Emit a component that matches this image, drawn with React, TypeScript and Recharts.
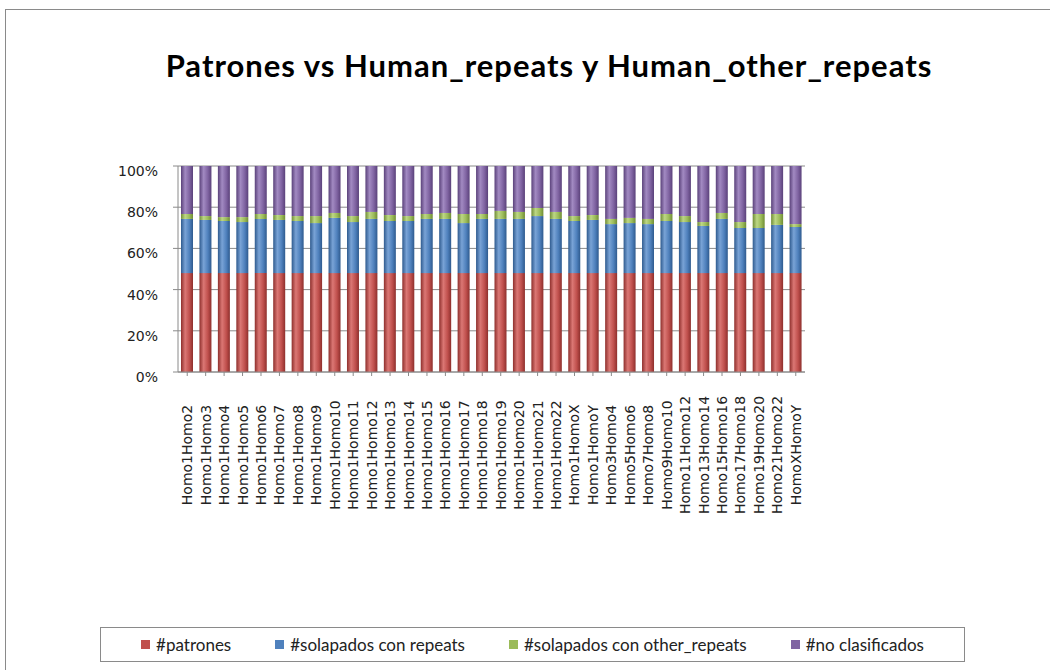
import { BarChart, Bar, XAxis, YAxis, CartesianGrid, Legend } from 'recharts';

// Categorías (pares de cromosomas comparados)
const categorias = [
  'Homo1Homo2', 'Homo1Homo3', 'Homo1Homo4', 'Homo1Homo5', 'Homo1Homo6', 'Homo1Homo7',
  'Homo1Homo8', 'Homo1Homo9', 'Homo1Homo10', 'Homo1Homo11', 'Homo1Homo12', 'Homo1Homo13',
  'Homo1Homo14', 'Homo1Homo15', 'Homo1Homo16', 'Homo1Homo17', 'Homo1Homo18', 'Homo1Homo19',
  'Homo1Homo20', 'Homo1Homo21', 'Homo1Homo22', 'Homo1HomoX', 'Homo1HomoY', 'Homo3Homo4',
  'Homo5Homo6', 'Homo7Homo8', 'Homo9Homo10', 'Homo11Homo12', 'Homo13Homo14', 'Homo15Homo16',
  'Homo17Homo18', 'Homo19Homo20', 'Homo21Homo22', 'HomoXHomoY',
];

// porcentajes
const patrones = [
  48, 48, 48, 48, 48, 48, 48, 48, 48, 48, 48, 48, 48, 48, 48, 48, 48,
  48, 48, 48, 48, 48, 48, 48, 48, 48, 48, 48, 48, 48, 48, 48, 48, 48,
];
const solapadosRepeats = [
  26.3, 25.8, 25.3, 24.8, 26.3, 25.8, 25.3, 24.3, 26.8, 24.8, 26.3, 25.3, 25.3, 26.3, 26.3, 24.3, 26.3,
  26.3, 26.3, 27.7, 26.3, 25.3, 25.8, 23.8, 24.3, 23.8, 25.3, 24.8, 22.9, 26.3, 21.9, 21.9, 23.4, 22.4,
];
const solapadosOther = [
  2.4, 1.9, 1.9, 2.4, 2.4, 2.4, 2.4, 3.4, 2.4, 2.9, 3.4, 2.9, 2.4, 2.4, 2.9, 4.4, 2.4,
  3.9, 3.4, 3.9, 3.4, 2.4, 2.4, 2.5, 2.5, 2.5, 3.4, 2.9, 1.9, 2.9, 2.9, 6.8, 5.3, 1.4,
];
const noClasificados = [
  23.3, 24.3, 24.8, 24.8, 23.3, 23.8, 24.3, 24.3, 22.8, 24.3, 22.3, 23.8, 24.3, 23.3, 22.8, 23.3, 23.3,
  21.8, 22.3, 20.4, 22.3, 24.3, 23.8, 25.7, 25.2, 25.7, 23.3, 24.3, 27.2, 22.8, 27.2, 23.3, 23.3, 28.2,
];
const yTicks = [0, 0.2, 0.4, 0.6, 0.8, 1];

const series = [
  { key: 'patrones', name: '#patrones', color: '#C0504D', dark: '#8E2F2C', light: '#DB7774' },
  { key: 'repeats', name: '#solapados con repeats', color: '#4F81BD', dark: '#2E5A8E', light: '#79A3D6' },
  { key: 'other', name: '#solapados con other_repeats', color: '#9BBB59', dark: '#6F8C35', light: '#BDD785' },
  { key: 'noclas', name: '#no clasificados', color: '#8064A2', dark: '#5A417A', light: '#A28AC2' },
];

const data = categorias.map((c, i) => ({
  name: c,
  patrones: patrones[i],
  repeats: solapadosRepeats[i],
  other: solapadosOther[i],
  noclas: noClasificados[i],
}));

const XTick = ({ x, payload }: any) => (
  <text
    transform={`translate(${x + 5},455) rotate(-90)`}
    textAnchor="middle"
    fontSize={14}
    fontFamily="DejaVu Sans"
    fill="#222"
  >
    {payload.value}
  </text>
);

const YTick = ({ x, y, payload }: any) => (
  <text x={x} y={y + 10} textAnchor="end" fontSize={14} fontFamily="DejaVu Sans" fill="#222">
    {Math.round(payload.value * 100) + '%'}
  </text>
);

const LegendBox = () => (
  <div
    style={{
      width: 863,
      height: 33,
      border: '1px solid #8a8a8a',
      display: 'flex',
      alignItems: 'center',
      justifyContent: 'center',
      gap: 44,
      fontFamily: 'Lato',
      fontSize: 17,
      color: '#222',
      background: '#fff',
    }}
  >
    {series.map(s => (
      <div key={s.key} style={{ display: 'flex', alignItems: 'center' }}>
        <span style={{ width: 9, height: 9, background: s.color, marginRight: 6 }} />
        <span>{s.name}</span>
      </div>
    ))}
  </div>
);

export default function App() {
  return (
    <div style={{ position: 'absolute', left: 0, top: 0, width: 1050, height: 670, background: '#fff', overflow: 'hidden' }}>
      <div
        style={{
          position: 'absolute',
          left: 5,
          top: 9,
          width: 1100,
          height: 700,
          borderTop: '1px solid #8a8a8a',
          borderLeft: '1px solid #8a8a8a',
        }}
      />
      <div
        style={{
          position: 'absolute',
          left: 0,
          top: 46,
          width: 1098,
          textAlign: 'center',
          fontFamily: 'Lato',
          fontWeight: 700,
          fontSize: 31,
          letterSpacing: 1,
          color: '#000',
        }}
      >
        Patrones vs Human_repeats y Human_other_repeats
      </div>
      <div style={{ position: 'absolute', left: 0, top: 0 }}>
        <BarChart
          width={1050}
          height={670}
          data={data}
          stackOffset="expand"
          barCategoryGap="30%"
          margin={{ top: 166, right: 245, bottom: 113, left: 0 }}
        >
          <defs>
            {series.map(s => (
              <linearGradient key={s.key} id={`g-${s.key}`} x1="0" y1="0" x2="1" y2="0">
                <stop offset="0%" stopColor={s.dark} />
                <stop offset="35%" stopColor={s.light} />
                <stop offset="70%" stopColor={s.color} />
                <stop offset="100%" stopColor={s.dark} />
              </linearGradient>
            ))}
          </defs>
          <CartesianGrid vertical={false} stroke="#8a8a8a" />
          <XAxis
            dataKey="name"
            interval={0}
            height={150}
            tick={<XTick />}
            stroke="#8a8a8a"
            tickSize={4}
          />
          <YAxis
            width={178}
            ticks={yTicks}
            domain={[0, 1]}
            tick={<YTick />}
            stroke="#8a8a8a"
            tickSize={5}
            tickMargin={15}
          />
          {series.map(s => (
            <Bar
              key={s.key}
              dataKey={s.key}
              name={s.name}
              stackId="a"
              fill={`url(#g-${s.key})`}
              barSize={12}
              isAnimationActive={false}
            />
          ))}
          <Legend
            content={<LegendBox />}
            wrapperStyle={{ position: 'absolute', left: 100, top: 627, width: 865, height: 35 }}
          />
        </BarChart>
      </div>
    </div>
  );
}
